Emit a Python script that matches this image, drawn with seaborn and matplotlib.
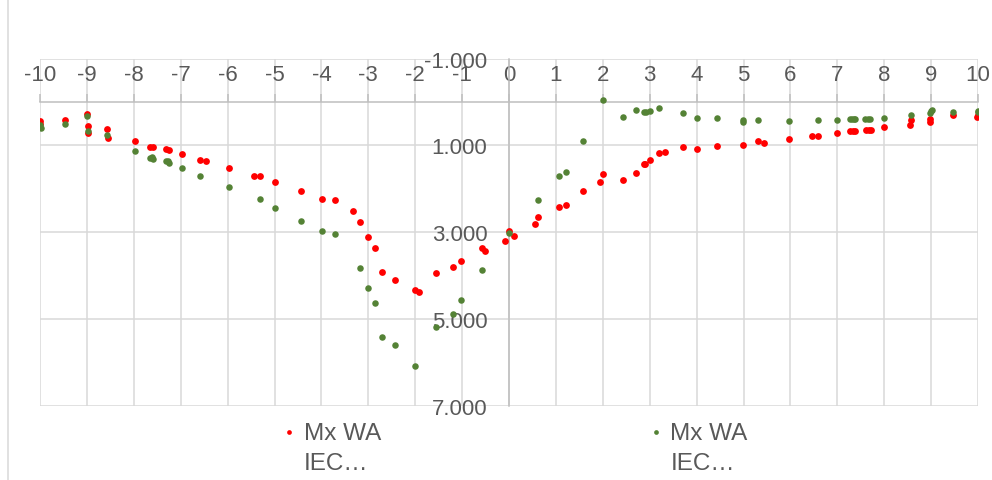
import matplotlib
matplotlib.use("Agg")
import matplotlib.pyplot as plt
from matplotlib.lines import Line2D
from matplotlib.legend_handler import HandlerLine2D
import seaborn as sns
import pandas as pd

# ---- data ----
red_x = [-10.0, -10.0, -9.47, -9.0, -8.97, -8.97, -8.57, -8.54, -7.97, -7.65, -7.58,
         -7.31, -7.24, -6.98, -6.58, -6.46, -5.98, -5.43, -5.30, -4.98, -4.44, -3.99,
         -3.71, -3.32, -3.18, -3.0, -2.86, -2.71, -2.44, -2.0, -1.92, -1.55, -1.19,
         -1.02, -0.57, -0.51, -0.08, 0.0, 0.10, 0.55, 0.61, 1.06, 1.22, 1.58, 1.93,
         2.0, 2.44, 2.71, 2.87, 2.90, 3.0, 3.19, 3.33, 3.70, 4.0, 4.44, 4.99, 5.31,
         5.43, 5.98, 6.46, 6.58, 6.99, 7.28, 7.33, 7.37, 7.62, 7.67, 7.71, 8.0, 8.55,
         8.58, 8.97, 8.98, 9.47, 9.98, 10.0]
red_y = [0.44, 0.50, 0.42, 0.27, 0.56, 0.71, 0.62, 0.82, 0.91, 1.03, 1.04,
         1.08, 1.11, 1.20, 1.34, 1.37, 1.52, 1.70, 1.70, 1.85, 2.06, 2.23,
         2.25, 2.51, 2.76, 3.11, 3.36, 3.91, 4.09, 4.32, 4.37, 3.93, 3.80,
         3.66, 3.36, 3.44, 3.20, 2.98, 3.08, 2.82, 2.66, 2.41, 2.37, 2.06, 1.85,
         1.66, 1.79, 1.63, 1.44, 1.44, 1.34, 1.18, 1.15, 1.03, 1.08, 1.02, 0.98, 0.91,
         0.94, 0.86, 0.79, 0.78, 0.71, 0.67, 0.66, 0.66, 0.65, 0.64, 0.65, 0.58, 0.53,
         0.42, 0.47, 0.40, 0.30, 0.35, 0.30]

green_x = [-10.0, -9.98, -9.47, -8.99, -8.97, -8.57, -7.97, -7.65, -7.62, -7.58,
           -7.31, -7.28, -7.24, -6.98, -6.58, -5.98, -5.30, -4.98, -4.44, -3.99,
           -3.71, -3.18, -3.0, -2.86, -2.71, -2.44, -2.0, -1.55, -1.19, -1.02,
           -0.57, 0.0, 0.61, 1.07, 1.22, 1.58, 2.0, 2.44, 2.71, 2.87, 2.92, 3.0,
           3.19, 3.70, 4.0, 4.44, 4.99, 4.99, 5.31, 5.98, 6.58, 6.99, 7.27, 7.31,
           7.35, 7.38, 7.60, 7.65, 7.70, 8.0, 8.58, 8.97, 9.0, 9.02, 9.47, 9.99, 10.0]
green_y = [0.53, 0.61, 0.51, 0.32, 0.68, 0.77, 1.14, 1.28, 1.26, 1.31,
           1.37, 1.36, 1.41, 1.53, 1.70, 1.96, 2.23, 2.44, 2.74, 2.98,
           3.05, 3.82, 4.28, 4.63, 5.41, 5.60, 6.08, 5.19, 4.88, 4.55,
           3.87, 3.01, 2.26, 1.70, 1.61, 0.91, -0.05, 0.34, 0.19, 0.24, 0.24, 0.21,
           0.15, 0.26, 0.36, 0.36, 0.41, 0.46, 0.41, 0.43, 0.42, 0.41, 0.40, 0.40,
           0.40, 0.40, 0.40, 0.40, 0.40, 0.36, 0.29, 0.26, 0.21, 0.18, 0.23, 0.23, 0.20]

x_ticks = list(range(-10, 11))
y_ticks = [-1, 1, 3, 5, 7]
legend_labels = ["Mx WA\nIEC…", "Mx WA\nIEC…"]
series_colors = ["#FF0000", "#548235"]

# ---- styling ----
sns.set_style("white")
plt.rcParams["font.family"] = ["Liberation Sans", "DejaVu Sans"]

fig = plt.figure(figsize=(9.92, 4.81), dpi=100)
ax = fig.add_axes([40 / 992, 1 - 407 / 481, 938 / 992, (407 - 59.5) / 481])

df_red = pd.DataFrame({"x": red_x, "y": red_y})
df_green = pd.DataFrame({"x": green_x, "y": green_y})
sns.scatterplot(data=df_red, x="x", y="y", color=series_colors[0], s=24,
                linewidth=0, ax=ax, zorder=3, legend=False)
sns.scatterplot(data=df_green, x="x", y="y", color=series_colors[1], s=22,
                linewidth=0, ax=ax, zorder=4, legend=False)

ax.set_xlim(-10, 10)
ax.set_ylim(7, -1)
ax.set_xlabel("")
ax.set_ylabel("")

grid_c = "#D9D9D9"
axis_c = "#BFBFBF"
txt_c = "#595959"

ax.set_xticks(x_ticks)
ax.set_xticklabels([str(t) for t in x_ticks])
ax.set_yticks(y_ticks)
ax.set_yticklabels([f"{t:.3f}" for t in y_ticks])

ax.grid(True, color=grid_c, lw=1.1)
ax.set_axisbelow(True)

ax.xaxis.tick_top()
for s in ["bottom", "right"]:
    ax.spines[s].set_visible(False)
ax.spines["top"].set_position(("data", 0))
ax.spines["left"].set_position(("data", 0))
for s in ["top", "left"]:
    ax.spines[s].set_color(axis_c)
    ax.spines[s].set_linewidth(1.1)
    ax.spines[s].set_zorder(2)

ax.tick_params(axis="x", which="both", colors=axis_c, length=5.5, width=1.1,
               direction="out", pad=7, labelsize=16, labelcolor=txt_c)
ax.tick_params(axis="y", which="both", colors=axis_c, length=5.5, width=1.1,
               direction="out", pad=10, labelsize=16, labelcolor=txt_c)


class ShiftedHandler(HandlerLine2D):
    def create_artists(self, legend, orig_handle, xdescent, ydescent, width,
                       height, fontsize, trans):
        arts = super().create_artists(legend, orig_handle, xdescent, ydescent,
                                      width, height, fontsize, trans)
        for a in arts:
            a.set_ydata([y + 11.5 for y in a.get_ydata()])
        return arts


handles = [Line2D([], [], marker="o", ls="", color=c, markersize=3.4,
                  markeredgewidth=0) for c in series_colors]
leg = fig.legend(handles, legend_labels, loc="upper center",
                 bbox_to_anchor=(0.519, 1 - 401 / 481), ncol=2, frameon=False,
                 fontsize=17.5, handlelength=0.6, handletextpad=0.3,
                 columnspacing=11.0, labelcolor=txt_c,
                 handler_map={Line2D: ShiftedHandler()})
for t in leg.get_texts():
    t.set_linespacing(1.45)

# chart-area border fragment at the left edge
fig.add_artist(Line2D([8 / 992, 8 / 992], [0, 1], color=grid_c, lw=1.1))

fig.savefig("out.png", dpi=100)
